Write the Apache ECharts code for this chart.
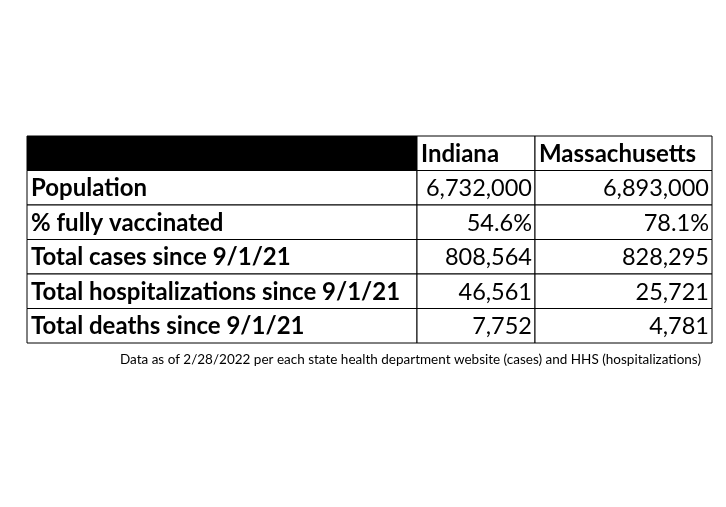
<!DOCTYPE html>
<html><head><meta charset="utf-8">
<script src="https://cdn.jsdelivr.net/npm/echarts@6/dist/echarts.min.js"></script>
<style>html,body{margin:0;background:#fff}#c{width:726px;height:507px}</style>
</head><body><div id="c"></div>
<script>
const columns = ['', 'Indiana', 'Massachusetts'];
const rowLabels = ['Population', '% fully vaccinated', 'Total cases since 9/1/21', 'Total hospitalizations since 9/1/21', 'Total deaths since 9/1/21'];
const indiana = ['6,732,000', '54.6%', '808,564', '46,561', '7,752'];
const massachusetts = ['6,893,000', '78.1%', '828,295', '25,721', '4,781'];
const colEdges = [0, 390, 508, 685];
const note = 'Data as of 2/28/2022 per each state health department website (cases) and HHS (hospitalizations)';

const cells = [];
columns.forEach((c, i) => cells.push([i, 0, c, i === 0 ? 'black' : 'header']));
rowLabels.forEach((r, j) => {
  cells.push([0, j + 1, r, 'label']);
  cells.push([1, j + 1, indiana[j], 'value']);
  cells.push([2, j + 1, massachusetts[j], 'value']);
});

const chart = echarts.init(document.getElementById('c'));
chart.setOption({
  animation: false,
  grid: { left: 27, top: 136, width: 685, height: 207 },
  xAxis: { type: 'value', min: 0, max: 685, show: false },
  yAxis: { type: 'value', min: 0, max: 6, inverse: true, show: false },
  title: {
    text: note, right: 20, top: 348,
    textStyle: { fontFamily: 'Lato', fontSize: 13.5, fontWeight: 'normal', color: '#000' }
  },
  series: [{
    type: 'custom',
    data: cells,
    renderItem: (params, api) => {
      const col = api.value(0), row = api.value(1), kind = cells[params.dataIndex][3];
      const text = cells[params.dataIndex][2];
      const p0 = api.coord([colEdges[col], row]);
      const p1 = api.coord([colEdges[col + 1], row + 1]);
      const w = p1[0] - p0[0], h = p1[1] - p0[1];
      const right = kind === 'value';
      return {
        type: 'group',
        children: [
          { type: 'rect', shape: { x: p0[0], y: p0[1], width: w, height: h },
            style: { fill: kind === 'black' ? '#000' : '#fff', stroke: '#000', lineWidth: 1 } },
          { type: 'text', style: {
              text: text, x: right ? p1[0] - 3 : p0[0] + 4, y: p0[1] + h / 2 + 1,
              align: right ? 'right' : 'left', verticalAlign: 'middle',
              fontFamily: 'Lato', fontSize: kind === 'value' ? 23.5 : 24,
              fontWeight: kind === 'value' ? 'normal' : 'bold', fill: '#000' } }
        ]
      };
    }
  }]
});
</script></body></html>
